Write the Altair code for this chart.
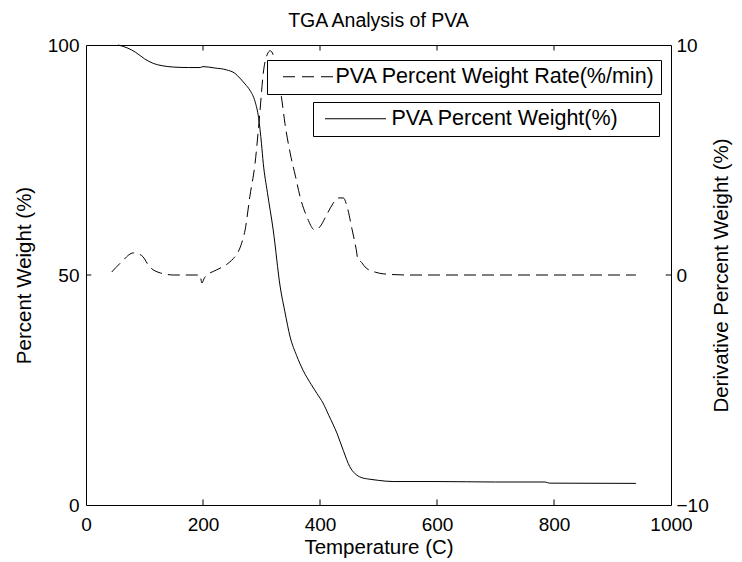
import altair as alt
import pandas as pd

# ---- data ----
temp_w = [55, 70, 85, 100, 115, 130, 150, 175, 195, 200, 220, 240, 255, 263, 272, 280, 289,
          295, 300, 303, 310, 320, 332, 340, 349, 360, 371, 385, 395, 405, 415, 429, 440,
          451, 460, 470, 485, 500, 525, 600, 700, 785, 792, 940]
weight = [100, 99.4, 98.4, 97.0, 96.0, 95.5, 95.2, 95.1, 95.1, 95.3, 95.0, 94.6, 93.8, 92.8,
          91.5, 90.2, 87.7, 84.2, 78.5, 74.3, 68.0, 59.8, 47.4, 42.0, 36.5, 32.5, 29.3, 26.2,
          24.2, 22.2, 19.5, 15.6, 11.8, 8.3, 6.8, 6.0, 5.6, 5.35, 5.1, 5.1, 5.0, 5.0, 4.75, 4.7]

temp_d = [44, 60, 81, 95, 109, 127, 150, 195, 198, 203, 223, 240, 252, 260, 266, 272, 280,
          289, 297, 303, 310, 315, 320, 325, 334, 340, 349, 358, 366, 378, 391, 400, 411,
          422, 428, 431, 440, 446, 455, 462, 465, 469, 477, 485, 495, 508, 550, 940]
rate = [0.13, 0.55, 0.96, 0.85, 0.35, 0.09, 0.0, 0.0, -0.35, -0.1, 0.22, 0.45, 0.72, 1.0,
        1.38, 1.96, 3.4, 4.86, 7.0, 8.77, 9.6, 9.75, 9.57, 8.9, 7.75, 6.6, 5.3, 4.3, 3.4,
        2.5, 1.96, 2.1, 2.6, 3.1, 3.3, 3.35, 3.35, 3.0, 1.96, 1.1, 0.65, 0.6, 0.35, 0.2,
        0.12, 0.05, 0.0, 0.0]

x_tick_values = [0, 200, 400, 600, 800, 1000]
left_tick_values = [0, 50, 100]
right_tick_values = [-10, 0, 10]

name_w = "PVA Percent Weight(%)"
name_d = "PVA Percent Weight Rate(%/min)"

FONT = "Liberation Sans"
FS = 19          # tick labels
FS_TITLE = 20.5  # axis titles
FS_LEG = 21.5    # legend labels

df_w = pd.DataFrame({"T": temp_w, "W": weight, "s": name_w})
df_d = pd.DataFrame({"T": temp_d, "D": rate, "s": name_d})
df_xt = pd.DataFrame({"v": x_tick_values[1:-1]})
df_lt = pd.DataFrame({"v": left_tick_values[1:-1]})
df_rt = pd.DataFrame({"v": right_tick_values[1:-1]})

common_axis = dict(grid=False, domain=False, ticks=False, tickSize=0,
                   labelFont=FONT, labelFontSize=FS, titleFont=FONT,
                   titleFontSize=FS_TITLE, titleFontWeight="normal",
                   labelColor="black", titleColor="black",
                   labelFlush=False, labelOverlap=False)

x_scale = alt.Scale(domain=[0, 1000], nice=False)
x_axis = alt.Axis(title="Temperature (C)", values=x_tick_values, format="d",
                  labelPadding=10, titlePadding=3, **common_axis)
yl_scale = alt.Scale(domain=[0, 100], nice=False)
yl_axis = alt.Axis(title="Percent Weight (%)", values=left_tick_values, orient="left",
                   labelPadding=7, titlePadding=13, **common_axis)
yr_scale = alt.Scale(domain=[-10, 10], nice=False)
yr_axis = alt.Axis(title="Derivative Percent Weight (%)", values=right_tick_values,
                   orient="right", labelPadding=5, titlePadding=23, titleAngle=270,
                   **common_axis)

# the solid-line legend box in the reference is wider than its text: an invisible
# title placed to the right of the entry pads it out
legend_w = alt.Legend(title="MM", titleOrient="right", titleFontSize=20, titleFont=FONT,
                      titlePadding=0, titleOpacity=0,
                      orient="none", legendX=227, legendY=57, padding=6,
                      strokeColor="black", fillColor="white", labelFont=FONT,
                      labelFontSize=FS_LEG, labelColor="black", labelLimit=0,
                      symbolType="M-1,0H11.2", symbolSize=100, symbolStrokeWidth=1,
                      symbolOffset=0.25, labelOffset=50.75)
legend_d = alt.Legend(title=None, orient="none", legendX=181, legendY=15, padding=6,
                      strokeColor="black", fillColor="white", labelFont=FONT,
                      labelFontSize=FS_LEG, labelColor="black", labelLimit=0,
                      symbolType="M-1,0H9", symbolSize=100, symbolStrokeWidth=1,
                      symbolOffset=4.25, labelOffset=36.75, symbolDash=[12, 7])

solid = alt.Chart(df_w).mark_line(strokeWidth=1, interpolate="monotone").encode(
    x=alt.X("T:Q", scale=x_scale, axis=x_axis),
    y=alt.Y("W:Q", scale=yl_scale, axis=yl_axis),
    color=alt.Color("s:N", scale=alt.Scale(range=["black"]), legend=legend_w),
)

tick_bottom = alt.Chart(df_xt).mark_rule(color="black", strokeWidth=1).encode(
    x=alt.X("v:Q", scale=x_scale, axis=x_axis),
    y=alt.Y(datum=0, scale=yl_scale, axis=yl_axis),
    y2=alt.Y2(datum=1.2),
)
tick_top = alt.Chart(df_xt).mark_rule(color="black", strokeWidth=1).encode(
    x=alt.X("v:Q", scale=x_scale, axis=x_axis),
    y=alt.Y(datum=100, scale=yl_scale, axis=yl_axis),
    y2=alt.Y2(datum=98.8),
)
tick_left = alt.Chart(df_lt).mark_rule(color="black", strokeWidth=1).encode(
    x=alt.X(datum=0, scale=x_scale, axis=x_axis),
    x2=alt.X2(datum=9),
    y=alt.Y("v:Q", scale=yl_scale, axis=yl_axis),
)

dashed = alt.Chart(df_d).mark_line(strokeWidth=1, strokeDash=[12, 6],
                                   interpolate="monotone").encode(
    x=alt.X("T:Q", scale=x_scale, axis=x_axis),
    y=alt.Y("D:Q", scale=yr_scale, axis=yr_axis),
    color=alt.Color("s:N", scale=alt.Scale(range=["black"]), legend=legend_d),
)
tick_right = alt.Chart(df_rt).mark_rule(color="black", strokeWidth=1).encode(
    x=alt.X(datum=991, scale=x_scale, axis=x_axis),
    x2=alt.X2(datum=1000),
    y=alt.Y("v:Q", scale=yr_scale, axis=yr_axis),
)

left_group = alt.layer(solid, tick_bottom, tick_top, tick_left)
right_group = alt.layer(dashed, tick_right)

chart = alt.layer(left_group, right_group).resolve_scale(
    y="independent", color="independent"
).resolve_legend(color="independent").properties(
    width=585,
    height=460,
    autosize=alt.AutoSizeParams(type="none"),
    padding={"left": 86, "top": 45, "right": 71, "bottom": 57},
    background="white",
    title=alt.TitleParams("TGA Analysis of PVA", font=FONT, fontSize=19.5,
                          fontWeight="normal", color="black", anchor="middle",
                          offset=5),
).configure_view(stroke="black", strokeWidth=1)

chart.save("out.html", embed_options={"renderer": "svg", "actions": False})
